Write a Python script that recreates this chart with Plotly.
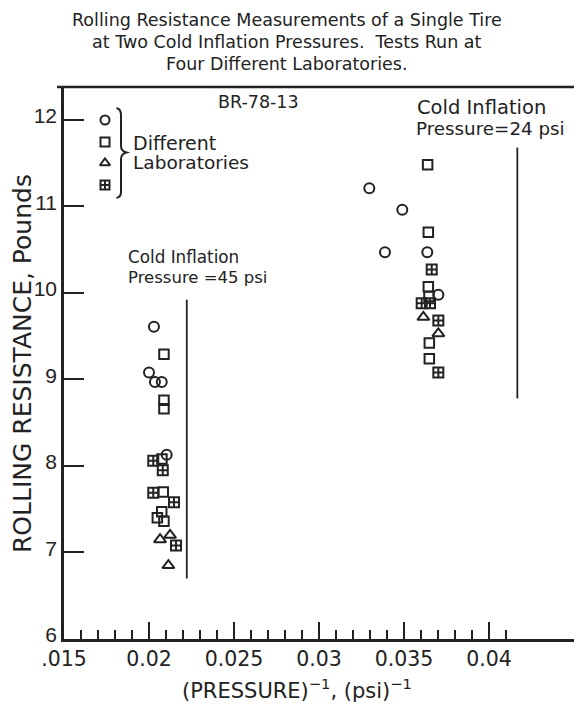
import plotly.graph_objects as go

# ---------------- data ----------------
# 45 psi tests (x = 1/pressure, psi^-1 ; y = rolling resistance, lb)
lab1_45_x = [0.02029, 0.02000, 0.02035, 0.02075, 0.02104]
lab1_45_y = [9.61, 9.08, 8.97, 8.97, 8.13]
lab2_45_x = [0.02088, 0.02088, 0.02088, 0.02076, 0.02084, 0.02075, 0.02049, 0.02088]
lab2_45_y = [9.29, 8.76, 8.66, 8.08, 7.70, 7.47, 7.40, 7.36]
lab3_45_x = [0.02065, 0.02124, 0.02114]
lab3_45_y = [7.15, 7.20, 6.85]
lab4_45_x = [0.02025, 0.02081, 0.02025, 0.02147, 0.02159]
lab4_45_y = [8.06, 7.95, 7.69, 7.58, 7.08]

# 24 psi tests
lab1_24_x = [0.03296, 0.03490, 0.03388, 0.03637, 0.03702]
lab1_24_y = [11.21, 10.96, 10.47, 10.47, 9.98]
lab2_24_x = [0.03639, 0.03643, 0.03643, 0.03647, 0.03649, 0.03649]
lab2_24_y = [11.48, 10.70, 10.07, 9.96, 9.42, 9.24]
lab3_24_x = [0.03614, 0.03702]
lab3_24_y = [9.72, 9.53]
lab4_24_x = [0.03663, 0.03604, 0.03653, 0.03702, 0.03702]
lab4_24_y = [10.27, 9.88, 9.88, 9.68, 9.08]

x_tickvals = [0.015, 0.02, 0.025, 0.03, 0.035, 0.04]
x_ticktext = [".015", "0.02", "0.025", "0.03", "0.035", "0.04"]
x_minorvals = [0.016, 0.017, 0.018, 0.019, 0.021, 0.022, 0.023, 0.024,
               0.026, 0.027, 0.028, 0.029, 0.031, 0.032, 0.033, 0.034,
               0.036, 0.037, 0.038, 0.039, 0.041]
y_tickvals = [6, 7, 8, 9, 10, 11, 12]
y_ticktext = ["6", "7", "8", "9", "10", "11", "12"]

pressures = [45, 24]
line_45_y = [6.70, 9.92]
line_24_y = [8.78, 11.68]

title_lines = ["Rolling Resistance Measurements of a Single Tire",
               "at Two Cold Inflation Pressures.  Tests Run at",
               "Four Different Laboratories."]

# ---------------- layout helpers ----------------
W, H = 574, 705
L, R, T, B = 64, 0, 87, 66
PW, PH = W - L - R, H - T - B


def px(x):
    return (x - L) / PW


def py(y):
    return (H - B - y) / PH


INK = "#222222"
FONT = "DejaVu Sans"
NUMFONT = "Liberation Sans"

symbols = ["circle-open", "square-open", "triangle-up-open", "square-cross-open"]
sizes = [10, 9.5, 10.5, 10]

fig = go.Figure()

groups = [
    (lab1_45_x + lab1_24_x, lab1_45_y + lab1_24_y),
    (lab2_45_x + lab2_24_x, lab2_45_y + lab2_24_y),
    (lab3_45_x + lab3_24_x, lab3_45_y + lab3_24_y),
    (lab4_45_x + lab4_24_x, lab4_45_y + lab4_24_y),
]
for (gx, gy), sym, sz in zip(groups, symbols, sizes):
    fig.add_trace(go.Scatter(
        x=gx, y=gy, mode="markers", showlegend=False,
        marker=dict(symbol=sym, size=sz, color=INK, line=dict(color=INK, width=2)),
    ))

# key markers (on an overlay axis in paper-like units)
key_x = [px(105)] * 4
key_y = [py(120), py(142), py(163), py(185)]
for kx, ky, sym in zip(key_x, key_y, symbols):
    fig.add_trace(go.Scatter(
        x=[kx], y=[ky], xaxis="x2", yaxis="y2", mode="markers", showlegend=False,
        marker=dict(symbol=sym, size=9, color=INK, line=dict(color=INK, width=2)),
    ))

shapes = []
# pressure reference lines
shapes.append(dict(type="line", xref="x", yref="y", x0=1 / pressures[0], x1=1 / pressures[0],
                   y0=line_45_y[0], y1=line_45_y[1], line=dict(color=INK, width=1.8)))
shapes.append(dict(type="line", xref="x", yref="y", x0=1 / pressures[1], x1=1 / pressures[1],
                   y0=line_24_y[0], y1=line_24_y[1], line=dict(color=INK, width=1.8)))
# top frame line
shapes.append(dict(type="line", xref="paper", yref="paper", x0=px(57), x1=1, y0=1, y1=1,
                   line=dict(color=INK, width=2.5)))
# brace
pts = [(116.5, 108), (121, 109), (121, 115), (121, 146), (121, 151), (126.5, 152.5),
       (121, 154), (121, 159), (121, 192), (121, 197), (116.5, 198)]
P = [(px(a), py(b)) for a, b in pts]
path = (f"M {P[0][0]},{P[0][1]} Q {P[1][0]},{P[1][1]} {P[2][0]},{P[2][1]} "
        f"L {P[3][0]},{P[3][1]} Q {P[4][0]},{P[4][1]} {P[5][0]},{P[5][1]} "
        f"Q {P[6][0]},{P[6][1]} {P[7][0]},{P[7][1]} L {P[8][0]},{P[8][1]} "
        f"Q {P[9][0]},{P[9][1]} {P[10][0]},{P[10][1]}")
shapes.append(dict(type="path", xref="paper", yref="paper", path=path,
                   line=dict(color=INK, width=2)))

ann = []


def text(t, x, y, size, xanchor="left", angle=0, family=FONT):
    ann.append(dict(text=t, x=px(x), y=py(y), xref="paper", yref="paper",
                    xanchor=xanchor, yanchor="middle", showarrow=False,
                    textangle=angle, font=dict(family=family, size=size, color=INK)))


for ln, yy in zip(title_lines, [20, 42, 64]):
    text(ln, 287, yy, 17.5, xanchor="center")

text("BR-78-13", 258, 102, 17.5, xanchor="center")
text("Different", 131, 143, 19)
text("Laboratories", 131, 163, 18.5)
text("Cold Inflation", 126, 257, 16.8)
text("Pressure =45 psi", 126, 277, 16.5)
text("Cold Inflation", 415, 107, 19.5)
text("Pressure=24 psi", 414, 128, 18.3)
text("ROLLING RESISTANCE, Pounds", 22, 364, 25, xanchor="center", angle=-90)
text("(PRESSURE)<sup>−1</sup>, (psi)<sup>−1</sup>", 297, 689, 21, xanchor="center")

fig.update_layout(
    width=W, height=H,
    margin=dict(l=L, r=R, t=T, b=B, pad=0),
    paper_bgcolor="white", plot_bgcolor="white",
    shapes=shapes, annotations=ann,
    xaxis=dict(range=[0.015, 0.045], showgrid=False, zeroline=False,
               showline=True, linecolor=INK, linewidth=2.5,
               ticks="inside", ticklen=17, tickwidth=2, tickcolor=INK,
               tickmode="array", tickvals=x_tickvals, ticktext=x_ticktext,
               tickfont=dict(family=FONT, size=20.5, color=INK),
               minor=dict(tickmode="array", tickvals=x_minorvals, ticks="inside",
                          ticklen=9, tickwidth=1.6, tickcolor=INK, showgrid=False)),
    yaxis=dict(range=[6, 12.38], showgrid=False, zeroline=False,
               showline=True, linecolor=INK, linewidth=2.5,
               ticks="inside", ticklen=20, tickwidth=2, tickcolor=INK,
               tickmode="array", tickvals=y_tickvals, ticktext=y_ticktext,
               ticklabelshift=-4,
               tickfont=dict(family=NUMFONT, size=21, color=INK)),
    xaxis2=dict(range=[0, 1], overlaying="x", visible=False, anchor="y2"),
    yaxis2=dict(range=[0, 1], overlaying="y", visible=False, anchor="x2"),
)

fig.write_html("out.html")
